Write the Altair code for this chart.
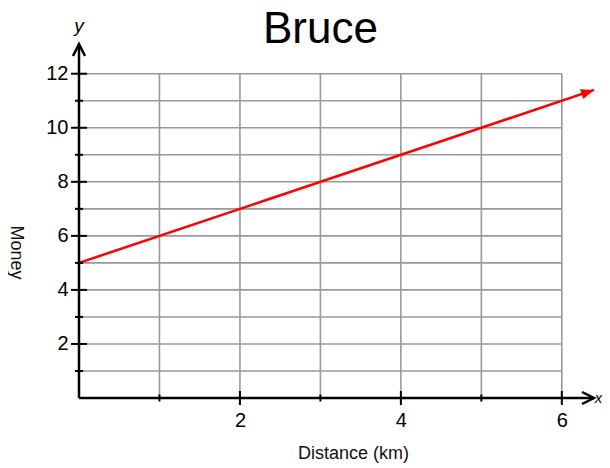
import altair as alt
import pandas as pd

# ---- data ----
title_text = "Bruce"
x_label_values = [2, 4, 6]
x_minor_ticks = [1, 3, 5]
y_label_values = [2, 4, 6, 8, 10, 12]
y_minor_ticks = [1, 3, 5, 7, 9, 11]
grid_x = [1, 2, 3, 4, 5, 6]
grid_y = [1, 2, 3, 4, 5, 6, 7, 8, 9, 10, 11, 12]
line_x = [0, 6.4]
line_y = [5, 11.4]
x_max, y_max = 6.4, 13.1
grid_x_max, grid_y_max = 6, 12

FONT = "Liberation Sans"

xs = alt.Scale(domain=[0, x_max], nice=False, zero=False)
ys = alt.Scale(domain=[0, y_max], nice=False, zero=False)

x_axis = alt.Axis(values=x_label_values, format="d", ticks=False, domain=False, grid=False,
                  labelFontSize=20, labelPadding=12, labelColor="black", labelFont=FONT,
                  title="Distance (km)", titleFontSize=18, titleFontWeight="normal",
                  titleFont=FONT, titleColor="#111", titleX=274, titleY=60,
                  titleAlign="center", titleBaseline="alphabetic")
y_axis = alt.Axis(values=y_label_values, format="d", ticks=False, domain=False, grid=False,
                  labelFontSize=20, labelPadding=11, labelColor="black", labelFont=FONT,
                  title="Money", titleFontSize=18, titleFontWeight="normal",
                  titleFont=FONT, titleColor="#111", titleAngle=90, titleX=-64, titleY=208,
                  titleAlign="center", titleBaseline="middle")

# grid
vgrid = alt.Chart(pd.DataFrame({"x": grid_x, "y0": 0, "y1": grid_y_max})).mark_rule(
    color="#999999", strokeWidth=1.6).encode(
    x=alt.X("x:Q", scale=xs, axis=x_axis), y=alt.Y("y0:Q", scale=ys, axis=y_axis), y2="y1:Q")
hgrid = alt.Chart(pd.DataFrame({"y": grid_y, "x0": 0, "x1": grid_x_max})).mark_rule(
    color="#999999", strokeWidth=1.6).encode(
    y=alt.Y("y:Q", scale=ys), x=alt.X("x0:Q", scale=xs), x2="x1:Q")

# axis lines
xline = alt.Chart(pd.DataFrame({"x0": [0], "x1": [x_max], "y": [0]})).mark_rule(
    color="black", strokeWidth=2.5).encode(x=alt.X("x0:Q", scale=xs), x2="x1:Q", y=alt.Y("y:Q", scale=ys))
yline = alt.Chart(pd.DataFrame({"y0": [0], "y1": [y_max], "x": [0]})).mark_rule(
    color="black", strokeWidth=2.5).encode(y=alt.Y("y0:Q", scale=ys), y2="y1:Q", x=alt.X("x:Q", scale=xs))

# ticks
ymaj = alt.Chart(pd.DataFrame({"y": y_label_values, "x": 0})).mark_tick(
    orient="horizontal", size=16, thickness=2, color="black", opacity=1).encode(
    x=alt.X("x:Q", scale=xs), y=alt.Y("y:Q", scale=ys))
ymin = alt.Chart(pd.DataFrame({"y": y_minor_ticks, "x": 0})).mark_tick(
    orient="horizontal", size=8, thickness=2, color="black", opacity=1).encode(
    x=alt.X("x:Q", scale=xs), y=alt.Y("y:Q", scale=ys))
xmaj = alt.Chart(pd.DataFrame({"x": x_label_values, "y": 0})).mark_tick(
    orient="vertical", size=14, thickness=2, color="black", opacity=1).encode(
    x=alt.X("x:Q", scale=xs), y=alt.Y("y:Q", scale=ys))
xmin = alt.Chart(pd.DataFrame({"x": x_minor_ticks, "y": 0})).mark_tick(
    orient="vertical", size=7, thickness=2, color="black", opacity=1).encode(
    x=alt.X("x:Q", scale=xs), y=alt.Y("y:Q", scale=ys))

# axis arrowheads (open chevrons)
chev = alt.Chart(pd.DataFrame({"x": [0, x_max], "y": [y_max, 0], "a": [0, 90]})).mark_point(
    shape="M-0.5,1L0,0L0.5,1", size=576, filled=False, stroke="black", strokeWidth=2.5,
    opacity=1, strokeJoin="miter").encode(
    x=alt.X("x:Q", scale=xs), y=alt.Y("y:Q", scale=ys), angle=alt.Angle("a:Q", scale=None))

# axis letters
letters_y = alt.Chart(pd.DataFrame({"x": [0], "y": [13.55], "t": ["y"]})).mark_text(
    fontSize=19, fontStyle="italic", font=FONT, color="black", align="center", baseline="alphabetic").encode(
    x=alt.X("x:Q", scale=xs), y=alt.Y("y:Q", scale=ys), text="t:N")
letters_x = alt.Chart(pd.DataFrame({"x": [6.455], "y": [0], "t": ["x"]})).mark_text(
    fontSize=15, fontStyle="italic", font=FONT, color="black", align="center", baseline="middle").encode(
    x=alt.X("x:Q", scale=xs), y=alt.Y("y:Q", scale=ys), text="t:N")

# title as a text annotation centred over the grid
title_mark = alt.Chart(pd.DataFrame({"x": [grid_x_max / 2], "y": [13.14], "t": [title_text]})).mark_text(
    fontSize=44, font=FONT, color="black", align="center", baseline="alphabetic").encode(
    x=alt.X("x:Q", scale=xs), y=alt.Y("y:Q", scale=ys), text="t:N")

# red line + arrowhead
red = alt.Chart(pd.DataFrame({"x": line_x, "y": line_y})).mark_line(
    color="#ff0000", strokeWidth=2.5).encode(x=alt.X("x:Q", scale=xs), y=alt.Y("y:Q", scale=ys))
red_head = alt.Chart(pd.DataFrame({"x": [line_x[-1]], "y": [line_y[-1]], "a": [341.4]})).mark_point(
    shape="M0,0L-1,-0.4L-1,0.4Z", size=676, filled=True, color="#ff0000", opacity=1).encode(
    x=alt.X("x:Q", scale=xs), y=alt.Y("y:Q", scale=ys), angle=alt.Angle("a:Q", scale=None))

chart = alt.layer(vgrid, hgrid, red, xline, yline, ymaj, ymin, xmaj, xmin, chev,
                  letters_y, letters_x, title_mark, red_head).properties(
    width=515, height=354,
    autosize=alt.AutoSizeParams(type="none"),
    padding={"left": 71, "top": 36, "right": 8, "bottom": 68},
).configure_view(stroke=None)

chart.save("out.html", embed_options={"renderer": "svg", "actions": False})
